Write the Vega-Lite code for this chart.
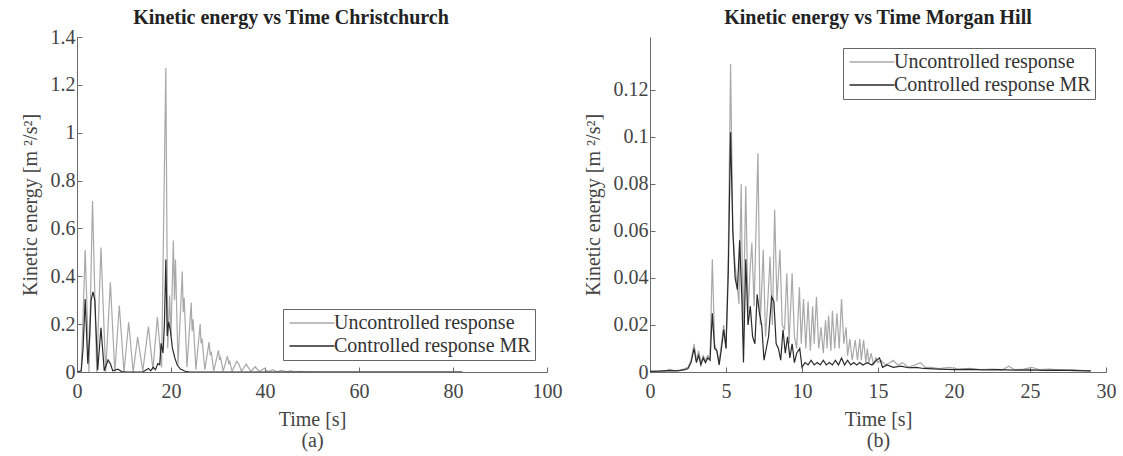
{
  "$schema": "https://vega.github.io/schema/vega-lite/v6.json",
  "background": "white",
  "padding": {"left": 20, "top": 8, "right": 0, "bottom": 2},
  "spacing": 21,
  "config": {
    "font": "Liberation Serif",
    "view": {"stroke": null},
    "axis": {"domainColor": "#6a6a6a", "tickColor": "#6a6a6a", "labelColor": "#444", "titleColor": "#444", "labelFontSize": 20, "titleFontSize": 20, "titleFontWeight": "normal", "grid": false, "tickSize": -5, "labelFlush": false, "labelFont": "Liberation Serif", "titleFont": "Liberation Serif", "labelPadding": 7},
    "title": {"fontSize": 20, "fontWeight": "bold", "color": "#222", "font": "Liberation Serif"},
    "legend": {"title": null, "symbolType": "M-5,0H1", "symbolSize": 225, "symbolOffset": 30, "symbolStrokeWidth": 1.3, "labelFontSize": 20, "labelFont": "Liberation Serif", "labelColor": "#333", "labelOffset": -3, "labelLimit": 400, "padding": 4, "rowPadding": 3, "strokeColor": "#666", "fillColor": "white", "cornerRadius": 0}
  },
  "datasets": {
    "chch": [
      {"s":"U","t":0,"v":0},{"s":"U","t":0.9,"v":0},{"s":"U","t":1.74,"v":0.51},{"s":"U","t":2.55,"v":0},{"s":"U","t":3.3,"v":0.715},{"s":"U","t":4.2,"v":0},{"s":"U","t":5.1,"v":0.52},{"s":"U","t":6.1,"v":0},{"s":"U","t":7.1,"v":0.375},{"s":"U","t":8.05,"v":0},{"s":"U","t":9.0,"v":0.278},{"s":"U","t":10.0,"v":0},{"s":"U","t":11.0,"v":0.208},{"s":"U","t":11.95,"v":0},{"s":"U","t":12.9,"v":0.146},{"s":"U","t":14.0,"v":0.005},{"s":"U","t":15.2,"v":0.19},{"s":"U","t":16.15,"v":0.01},{"s":"U","t":17.1,"v":0.23},{"s":"U","t":18.0,"v":0.02},{"s":"U","t":18.9,"v":1.27},{"s":"U","t":19.3,"v":0.1},{"s":"U","t":19.7,"v":0.32},{"s":"U","t":20.0,"v":0.15},{"s":"U","t":20.5,"v":0.55},{"s":"U","t":20.75,"v":0.3},{"s":"U","t":20.95,"v":0.47},{"s":"U","t":21.5,"v":0.03},{"s":"U","t":22.4,"v":0.42},{"s":"U","t":22.6,"v":0.25},{"s":"U","t":22.8,"v":0.31},{"s":"U","t":23.4,"v":0.02},{"s":"U","t":24.3,"v":0.29},{"s":"U","t":24.5,"v":0.17},{"s":"U","t":24.7,"v":0.22},{"s":"U","t":25.3,"v":0.01},{"s":"U","t":26.2,"v":0.2},{"s":"U","t":26.4,"v":0.12},{"s":"U","t":26.6,"v":0.14},{"s":"U","t":27.2,"v":0.01},{"s":"U","t":28.1,"v":0.125},{"s":"U","t":28.35,"v":0.07},{"s":"U","t":28.55,"v":0.085},{"s":"U","t":29.1,"v":0.005},{"s":"U","t":30.1,"v":0.09},{"s":"U","t":30.35,"v":0.05},{"s":"U","t":30.55,"v":0.06},{"s":"U","t":31.1,"v":0.004},{"s":"U","t":32.0,"v":0.066},{"s":"U","t":32.3,"v":0.035},{"s":"U","t":32.5,"v":0.045},{"s":"U","t":33.0,"v":0.003},{"s":"U","t":34.0,"v":0.045},{"s":"U","t":34.5,"v":0.03},{"s":"U","t":35.0,"v":0.003},{"s":"U","t":36.0,"v":0.033},{"s":"U","t":37.0,"v":0.002},{"s":"U","t":37.9,"v":0.022},{"s":"U","t":38.8,"v":0.002},{"s":"U","t":39.8,"v":0.015},{"s":"U","t":40.7,"v":0.001},{"s":"U","t":41.6,"v":0.01},{"s":"U","t":42.5,"v":0.001},{"s":"U","t":43.5,"v":0.007},{"s":"U","t":44.5,"v":0.001},{"s":"U","t":45.4,"v":0.005},{"s":"U","t":46.4,"v":0.001},{"s":"U","t":47.3,"v":0.003},{"s":"U","t":48.3,"v":0.0005},{"s":"U","t":50,"v":0.001},{"s":"U","t":52,"v":0},{"s":"U","t":82,"v":0},
      {"s":"C","t":0,"v":0},{"s":"C","t":0.9,"v":0.005},{"s":"C","t":1.3,"v":0.1},{"s":"C","t":1.74,"v":0.305},{"s":"C","t":2.3,"v":0.035},{"s":"C","t":2.7,"v":0.15},{"s":"C","t":3.0,"v":0.3},{"s":"C","t":3.4,"v":0.335},{"s":"C","t":3.8,"v":0.3},{"s":"C","t":4.4,"v":0.007},{"s":"C","t":5.1,"v":0.185},{"s":"C","t":5.8,"v":0.005},{"s":"C","t":6.6,"v":0.05},{"s":"C","t":6.9,"v":0.04},{"s":"C","t":7.1,"v":0.035},{"s":"C","t":7.6,"v":0.005},{"s":"C","t":8.7,"v":0.012},{"s":"C","t":9.5,"v":0.002},{"s":"C","t":10.5,"v":0},{"s":"C","t":14,"v":0},{"s":"C","t":15.2,"v":0.015},{"s":"C","t":15.7,"v":0.005},{"s":"C","t":16.2,"v":0.02},{"s":"C","t":16.7,"v":0.01},{"s":"C","t":17.2,"v":0.035},{"s":"C","t":17.6,"v":0.03},{"s":"C","t":17.9,"v":0.12},{"s":"C","t":18.3,"v":0.08},{"s":"C","t":18.6,"v":0.2},{"s":"C","t":18.9,"v":0.47},{"s":"C","t":19.2,"v":0.15},{"s":"C","t":19.5,"v":0.21},{"s":"C","t":19.9,"v":0.17},{"s":"C","t":20.3,"v":0.1},{"s":"C","t":20.8,"v":0.06},{"s":"C","t":21.3,"v":0.03},{"s":"C","t":22,"v":0.012},{"s":"C","t":23,"v":0.003},{"s":"C","t":24,"v":0},{"s":"C","t":82,"v":0}
    ],
    "mh": [
      {"s":"U","t":0,"v":0.0003},{"s":"U","t":0.5,"v":0.0005},{"s":"U","t":1.0,"v":0.0004},{"s":"U","t":1.3,"v":0.0012},{"s":"U","t":1.6,"v":0.0006},{"s":"U","t":2.0,"v":0.0008},{"s":"U","t":2.3,"v":0.0015},{"s":"U","t":2.5,"v":0.002},{"s":"U","t":2.7,"v":0.005},{"s":"U","t":2.9,"v":0.012},{"s":"U","t":3.05,"v":0.005},{"s":"U","t":3.2,"v":0.009},{"s":"U","t":3.35,"v":0.004},{"s":"U","t":3.5,"v":0.007},{"s":"U","t":3.65,"v":0.005},{"s":"U","t":3.8,"v":0.007},{"s":"U","t":3.95,"v":0.006},{"s":"U","t":4.1,"v":0.048},{"s":"U","t":4.25,"v":0.012},{"s":"U","t":4.4,"v":0.009},{"s":"U","t":4.55,"v":0.004},{"s":"U","t":4.7,"v":0.012},{"s":"U","t":4.85,"v":0.02},{"s":"U","t":5.0,"v":0.01},{"s":"U","t":5.15,"v":0.05},{"s":"U","t":5.3,"v":0.131},{"s":"U","t":5.45,"v":0.06},{"s":"U","t":5.6,"v":0.045},{"s":"U","t":5.75,"v":0.036},{"s":"U","t":5.85,"v":0.029},{"s":"U","t":6.0,"v":0.08},{"s":"U","t":6.12,"v":0.015},{"s":"U","t":6.3,"v":0.079},{"s":"U","t":6.45,"v":0.025},{"s":"U","t":6.6,"v":0.045},{"s":"U","t":6.7,"v":0.055},{"s":"U","t":6.85,"v":0.028},{"s":"U","t":7.1,"v":0.093},{"s":"U","t":7.25,"v":0.02},{"s":"U","t":7.45,"v":0.052},{"s":"U","t":7.6,"v":0.015},{"s":"U","t":7.75,"v":0.03},{"s":"U","t":7.9,"v":0.049},{"s":"U","t":8.05,"v":0.02},{"s":"U","t":8.2,"v":0.069},{"s":"U","t":8.35,"v":0.03},{"s":"U","t":8.55,"v":0.052},{"s":"U","t":8.7,"v":0.02},{"s":"U","t":8.85,"v":0.018},{"s":"U","t":9.0,"v":0.042},{"s":"U","t":9.15,"v":0.012},{"s":"U","t":9.35,"v":0.042},{"s":"U","t":9.5,"v":0.015},{"s":"U","t":9.65,"v":0.01},{"s":"U","t":9.83,"v":0.036},{"s":"U","t":9.95,"v":0.012},{"s":"U","t":10.1,"v":0.031},{"s":"U","t":10.25,"v":0.01},{"s":"U","t":10.4,"v":0.03},{"s":"U","t":10.55,"v":0.009},{"s":"U","t":10.7,"v":0.028},{"s":"U","t":10.8,"v":0.012},{"s":"U","t":10.95,"v":0.032},{"s":"U","t":11.1,"v":0.01},{"s":"U","t":11.25,"v":0.019},{"s":"U","t":11.4,"v":0.008},{"s":"U","t":11.55,"v":0.022},{"s":"U","t":11.65,"v":0.01},{"s":"U","t":11.75,"v":0.024},{"s":"U","t":11.9,"v":0.009},{"s":"U","t":12.0,"v":0.026},{"s":"U","t":12.15,"v":0.01},{"s":"U","t":12.3,"v":0.025},{"s":"U","t":12.45,"v":0.01},{"s":"U","t":12.6,"v":0.031},{"s":"U","t":12.75,"v":0.012},{"s":"U","t":12.9,"v":0.019},{"s":"U","t":13.0,"v":0.007},{"s":"U","t":13.15,"v":0.014},{"s":"U","t":13.3,"v":0.005},{"s":"U","t":13.5,"v":0.0136},{"s":"U","t":13.65,"v":0.005},{"s":"U","t":13.8,"v":0.014},{"s":"U","t":13.9,"v":0.005},{"s":"U","t":14.05,"v":0.0136},{"s":"U","t":14.2,"v":0.004},{"s":"U","t":14.3,"v":0.01},{"s":"U","t":14.4,"v":0.004},{"s":"U","t":14.55,"v":0.008},{"s":"U","t":14.7,"v":0.003},{"s":"U","t":14.85,"v":0.006},{"s":"U","t":15.0,"v":0.004},{"s":"U","t":15.2,"v":0.005},{"s":"U","t":15.5,"v":0.003},{"s":"U","t":15.8,"v":0.004},{"s":"U","t":16.0,"v":0.005},{"s":"U","t":16.3,"v":0.003},{"s":"U","t":16.6,"v":0.004},{"s":"U","t":17.0,"v":0.002},{"s":"U","t":17.4,"v":0.003},{"s":"U","t":17.8,"v":0.004},{"s":"U","t":18.1,"v":0.002},{"s":"U","t":18.5,"v":0.002},{"s":"U","t":19.0,"v":0.0015},{"s":"U","t":19.7,"v":0.002},{"s":"U","t":20.3,"v":0.0012},{"s":"U","t":21.0,"v":0.0015},{"s":"U","t":21.8,"v":0.001},{"s":"U","t":22.5,"v":0.0012},{"s":"U","t":23.2,"v":0.001},{"s":"U","t":23.6,"v":0.0025},{"s":"U","t":24.0,"v":0.001},{"s":"U","t":24.6,"v":0.0012},{"s":"U","t":25.1,"v":0.002},{"s":"U","t":25.6,"v":0.001},{"s":"U","t":26.3,"v":0.0012},{"s":"U","t":27.0,"v":0.0008},{"s":"U","t":27.8,"v":0.001},{"s":"U","t":28.5,"v":0.0006},{"s":"U","t":29.0,"v":0.0005},
      {"s":"C","t":0,"v":0.0003},{"s":"C","t":0.6,"v":0.0004},{"s":"C","t":1.2,"v":0.0006},{"s":"C","t":1.8,"v":0.0005},{"s":"C","t":2.3,"v":0.001},{"s":"C","t":2.5,"v":0.0015},{"s":"C","t":2.7,"v":0.004},{"s":"C","t":2.9,"v":0.01},{"s":"C","t":3.05,"v":0.004},{"s":"C","t":3.2,"v":0.007},{"s":"C","t":3.35,"v":0.003},{"s":"C","t":3.5,"v":0.006},{"s":"C","t":3.65,"v":0.004},{"s":"C","t":3.8,"v":0.006},{"s":"C","t":3.95,"v":0.005},{"s":"C","t":4.1,"v":0.025},{"s":"C","t":4.25,"v":0.01},{"s":"C","t":4.4,"v":0.009},{"s":"C","t":4.55,"v":0.003},{"s":"C","t":4.7,"v":0.01},{"s":"C","t":4.85,"v":0.018},{"s":"C","t":5.0,"v":0.01},{"s":"C","t":5.15,"v":0.042},{"s":"C","t":5.3,"v":0.102},{"s":"C","t":5.45,"v":0.06},{"s":"C","t":5.6,"v":0.04},{"s":"C","t":5.75,"v":0.035},{"s":"C","t":5.9,"v":0.056},{"s":"C","t":6.05,"v":0.03},{"s":"C","t":6.15,"v":0.004},{"s":"C","t":6.3,"v":0.048},{"s":"C","t":6.45,"v":0.02},{"s":"C","t":6.6,"v":0.028},{"s":"C","t":6.75,"v":0.015},{"s":"C","t":6.9,"v":0.012},{"s":"C","t":7.05,"v":0.033},{"s":"C","t":7.2,"v":0.025},{"s":"C","t":7.35,"v":0.02},{"s":"C","t":7.5,"v":0.005},{"s":"C","t":7.65,"v":0.01},{"s":"C","t":7.8,"v":0.015},{"s":"C","t":8.0,"v":0.032},{"s":"C","t":8.15,"v":0.03},{"s":"C","t":8.3,"v":0.012},{"s":"C","t":8.45,"v":0.01},{"s":"C","t":8.6,"v":0.005},{"s":"C","t":8.75,"v":0.018},{"s":"C","t":8.9,"v":0.008},{"s":"C","t":9.05,"v":0.015},{"s":"C","t":9.2,"v":0.006},{"s":"C","t":9.35,"v":0.012},{"s":"C","t":9.5,"v":0.004},{"s":"C","t":9.65,"v":0.008},{"s":"C","t":9.85,"v":0.01},{"s":"C","t":10.0,"v":0.002},{"s":"C","t":10.2,"v":0.004},{"s":"C","t":10.4,"v":0.003},{"s":"C","t":10.6,"v":0.005},{"s":"C","t":10.8,"v":0.003},{"s":"C","t":11.0,"v":0.004},{"s":"C","t":11.2,"v":0.003},{"s":"C","t":11.4,"v":0.005},{"s":"C","t":11.6,"v":0.003},{"s":"C","t":11.8,"v":0.004},{"s":"C","t":12.0,"v":0.003},{"s":"C","t":12.2,"v":0.005},{"s":"C","t":12.4,"v":0.003},{"s":"C","t":12.6,"v":0.006},{"s":"C","t":12.8,"v":0.003},{"s":"C","t":13.0,"v":0.005},{"s":"C","t":13.2,"v":0.003},{"s":"C","t":13.4,"v":0.004},{"s":"C","t":13.6,"v":0.003},{"s":"C","t":13.8,"v":0.004},{"s":"C","t":14.0,"v":0.003},{"s":"C","t":14.3,"v":0.004},{"s":"C","t":14.6,"v":0.003},{"s":"C","t":14.9,"v":0.005},{"s":"C","t":15.1,"v":0.006},{"s":"C","t":15.3,"v":0.002},{"s":"C","t":15.6,"v":0.003},{"s":"C","t":16.0,"v":0.002},{"s":"C","t":16.5,"v":0.0025},{"s":"C","t":17.0,"v":0.0018},{"s":"C","t":17.5,"v":0.002},{"s":"C","t":18.0,"v":0.0015},{"s":"C","t":19.0,"v":0.0012},{"s":"C","t":20.0,"v":0.001},{"s":"C","t":21.0,"v":0.0011},{"s":"C","t":22.0,"v":0.0009},{"s":"C","t":23.0,"v":0.001},{"s":"C","t":24.0,"v":0.0008},{"s":"C","t":25.0,"v":0.0009},{"s":"C","t":26.0,"v":0.0007},{"s":"C","t":27.0,"v":0.0008},{"s":"C","t":28.0,"v":0.0006},{"s":"C","t":29.0,"v":0.0005}
    ]
  },
  "resolve": {"legend": {"color": "independent"}},
  "hconcat": [
    {
      "data": {"name": "chch"},
      "title": {"text": "Kinetic energy vs Time Christchurch", "frame": "bounds", "offset": -1},
      "width": 470,
      "height": 335,
      "mark": {"type": "line", "strokeWidth": 1.2, "clip": true},
      "encoding": {
        "x": {"field": "t", "type": "quantitative", "scale": {"domain": [0, 100], "nice": false}, "axis": {"values": [0, 20, 40, 60, 80, 100], "title": ["Time [s]", "(a)"], "titleLineHeight": 21, "titlePadding": 8, "labelPadding": 14}},
        "y": {"field": "v", "type": "quantitative", "scale": {"domain": [0, 1.4], "nice": false}, "axis": {"values": [0, 0.2, 0.4, 0.6, 0.8, 1, 1.2, 1.4], "format": "~g", "title": "Kinetic energy [m ²/s²]", "titlePadding": 10}},
        "color": {"field": "s", "type": "nominal", "scale": {"domain": ["U", "C"], "range": ["#a8a8a8", "#2a2a2a"]}, "legend": {"orient": "bottom-right", "offset": 12, "labelExpr": "datum.value == 'U' ? 'Uncontrolled response' : 'Controlled response MR'"}}
      }
    },
    {
      "data": {"name": "mh"},
      "title": {"text": "Kinetic energy vs Time Morgan Hill", "frame": "group", "offset": 9},
      "width": 456,
      "height": 335,
      "mark": {"type": "line", "strokeWidth": 1.2, "clip": true},
      "encoding": {
        "x": {"field": "t", "type": "quantitative", "scale": {"domain": [0, 30], "nice": false}, "axis": {"values": [0, 5, 10, 15, 20, 25, 30], "title": ["Time [s]", "(b)"], "titleLineHeight": 21, "titlePadding": 8, "labelPadding": 14}},
        "y": {"field": "v", "type": "quantitative", "scale": {"domain": [0, 0.1425], "nice": false}, "axis": {"values": [0, 0.02, 0.04, 0.06, 0.08, 0.1, 0.12], "format": "~g", "title": "Kinetic energy [m ²/s²]", "titlePadding": 10}},
        "color": {"field": "s", "type": "nominal", "scale": {"domain": ["U", "C"], "range": ["#a8a8a8", "#2a2a2a"]}, "legend": {"orient": "top-right", "offset": 11, "labelExpr": "datum.value == 'U' ? 'Uncontrolled response' : 'Controlled response MR'"}}
      }
    }
  ]
}
